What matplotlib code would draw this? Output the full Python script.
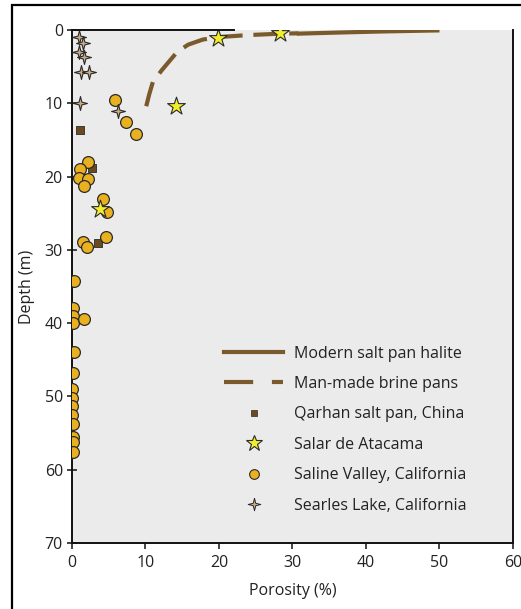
"""
Porosity versus depth for halite from salt pans and brine pans.
"""

import matplotlib
matplotlib.use('Agg')
from matplotlib import pyplot as plt
from matplotlib.lines import Line2D
from matplotlib.patches import Rectangle

plt.rcParams['font.family'] = ['Open Sans', 'DejaVu Sans']

# modern salt pan halite (solid) and man-made brine pans (dashed)
modern_por = [30.6, 36.0, 42.0, 50.0]
modern_depth = [0.5, 0.35, 0.2, 0.05]
brine_por = [10.1, 10.5, 11.0, 12.2, 14.3, 15.8, 17.8, 20.1, 23.8, 28.3, 30.8]
brine_depth = [10.4, 8.8, 7.1, 5.5, 3.0, 2.0, 1.3, 0.95, 0.7, 0.5, 0.45]

# Qarhan salt pan, China
qarhan_por = [1.1, 2.7, 3.5]
qarhan_depth = [13.6, 18.8, 29.0]

# Salar de Atacama
atacama_por = [28.3, 19.9, 14.1, 3.8]
atacama_depth = [0.4, 1.1, 10.4, 24.4]

# Saline Valley, California
saline_por = [5.9, 7.3, 8.7, 2.2, 1.1, 1.0, 2.2, 1.6, 4.2, 4.7, 1.5, 2.0, 4.6,
              0.3, 0.1, 0.1, 0.2, 1.6, 0.3, 0.2, 0.0, 0.0, 0.0, 0.0, 0.1,
              0.1, 0.1, 0.1]
saline_depth = [9.5, 12.5, 14.2, 18.0, 19.0, 20.2, 20.3, 21.3, 23.0, 24.8, 28.9, 29.6, 28.2,
                34.2, 37.9, 39.0, 40.0, 39.4, 43.9, 46.8, 49.0, 50.2, 51.3, 52.5, 53.7,
                55.6, 56.2, 57.6]

# Searles Lake, California
searles_por = [1.0, 1.5, 1.0, 1.6, 1.2, 2.3, 1.1, 6.3]
searles_depth = [0.9, 1.8, 3.0, 3.7, 5.7, 5.7, 10.0, 11.0]

BROWN = '#7a5a2c'
SQUARE = '#6b4a22'
STAR = '#f2ee2e'
GOLD = '#e9b11f'
TAN = '#c9ab84'
EDGE = '#2a2a2a'
TEXT = '#222222'
FS = 11.5

# four-pointed sparkle marker
sparkle = [(0, 1), (0.2, 0.2), (1, 0), (0.2, -0.2), (0, -1),
           (-0.2, -0.2), (-1, 0), (-0.2, 0.2), (0, 1)]

fig = plt.figure(figsize=(5.21, 6.09), dpi=100)
ax = fig.add_axes([0.1382, 0.1084, 0.8464, 0.8423])
ax.set_facecolor('#ebebeb')

# frame round the figure
fig.patches.append(Rectangle((12 / 521, -0.05), 1.1, 1 - 5 / 609 + 0.05,
                             transform=fig.transFigure, fill=False,
                             edgecolor='black', linewidth=1.6))

ax.plot(modern_por, modern_depth, color=BROWN, lw=3, solid_capstyle='butt', zorder=2)
ax.plot(brine_por, brine_depth, color=BROWN, lw=3, linestyle=(0, (6, 2.6)), zorder=2)

ax.scatter(qarhan_por, qarhan_depth, marker='s', s=40, color=SQUARE,
           edgecolors=EDGE, linewidths=0.6, zorder=3)
ax.scatter(saline_por, saline_depth, marker='o', s=72, color=GOLD,
           edgecolors=EDGE, linewidths=0.9, zorder=3)
ax.scatter(searles_por, searles_depth, marker=sparkle, s=100, color=TAN,
           edgecolors=EDGE, linewidths=0.8, zorder=4)
ax.scatter(atacama_por, atacama_depth, marker='*', s=180, color=STAR,
           edgecolors=EDGE, linewidths=0.8, zorder=5)

ax.set_xlim(0, 60)
ax.set_ylim(70, 0)
ax.set_xticks(range(0, 61, 10))
ax.set_yticks(range(0, 71, 10))
ax.tick_params(axis='x', direction='out', length=4, width=1.2, pad=5, labelsize=FS,
               colors=TEXT)
ax.tick_params(axis='y', direction='inout', length=7, width=1.2, pad=3, labelsize=FS,
               colors=TEXT)

for side in ['left', 'bottom', 'right']:
    ax.spines[side].set_linewidth(1.4)
    ax.spines[side].set_color('#111111')
ax.spines['top'].set_visible(False)
ax.plot([0, 22], [0, 0], color='#111111', lw=1.4, clip_on=False, zorder=6)

ax.set_xlabel('Porosity (%)', fontsize=FS, color=TEXT, labelpad=8)
ax.set_ylabel('Depth (m)', fontsize=FS, color=TEXT, labelpad=7)

handles = [
    Line2D([], [], color=BROWN, lw=3),
    Line2D([], [], color=BROWN, lw=3, linestyle=(0, (7, 4.5))),
    Line2D([], [], marker='s', ls='none', ms=5, color=SQUARE, mec=EDGE, mew=0.5),
    Line2D([], [], marker='*', ls='none', ms=12, color=STAR, mec=EDGE, mew=0.8),
    Line2D([], [], marker='o', ls='none', ms=7, color=GOLD, mec=EDGE, mew=0.8),
    Line2D([], [], marker=sparkle, ls='none', ms=9, color=TAN, mec=EDGE, mew=0.7),
]
labels = ['Modern salt pan halite', 'Man-made brine pans', 'Qarhan salt pan, China',
          'Salar de Atacama', 'Saline Valley, California', 'Searles Lake, California']
leg = ax.legend(handles, labels, loc='lower right', bbox_to_anchor=(0.91, 0.045),
                borderaxespad=0, frameon=False, fontsize=FS, handlelength=3.7,
                handletextpad=0.7, labelspacing=0.9)
for t in leg.get_texts():
    t.set_color(TEXT)

fig.savefig('out.png', dpi=100)
